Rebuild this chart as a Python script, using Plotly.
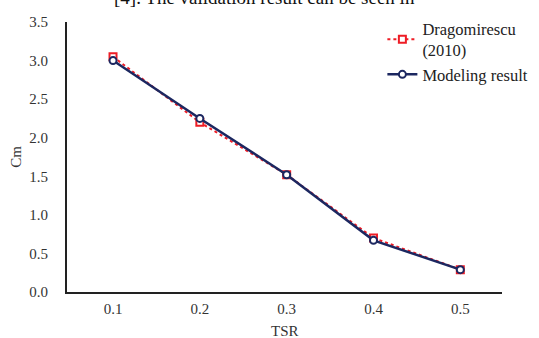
import plotly.graph_objects as go

tsr = [0.1, 0.2, 0.3, 0.4, 0.5]
tick_labels = ["0.1", "0.2", "0.3", "0.4", "0.5"]
cm_dragomirescu = [3.05, 2.20, 1.52, 0.70, 0.29]
cm_model = [3.00, 2.25, 1.52, 0.67, 0.29]

RED = "#ee1c25"
NAVY = "#1c2760"
FONT = "Liberation Serif, Times New Roman, serif"

fig = go.Figure()
fig.add_trace(go.Scatter(
    x=tsr, y=cm_dragomirescu, mode="lines+markers",
    name="Dragomirescu<br>(2010)",
    line=dict(color=RED, width=2, dash="dot"),
    marker=dict(symbol="square", size=7, color="white", line=dict(color=RED, width=2)),
))
fig.add_trace(go.Scatter(
    x=tsr, y=cm_model, mode="lines+markers",
    name="Modeling result",
    line=dict(color=NAVY, width=2.5),
    marker=dict(symbol="circle", size=7, color="white", line=dict(color=NAVY, width=2)),
))

fig.update_layout(
    width=539, height=338,
    margin=dict(l=67, r=37, t=22, b=46, autoexpand=False),
    paper_bgcolor="white", plot_bgcolor="white",
    font=dict(family=FONT, size=15, color="#333333"),
    showlegend=True,
    legend=dict(x=0.725, y=1.04, xanchor="left", yanchor="top",
                bgcolor="rgba(0,0,0,0)", font=dict(family=FONT, size=16.5, color="#222222"),
                tracegroupgap=2, itemwidth=30),
    xaxis=dict(range=[0.047, 0.548], tickvals=tsr, ticktext=tick_labels, automargin=False,
               showgrid=False, zeroline=False, showline=True, linecolor="#222222", linewidth=2,
               ticks="", tickfont=dict(size=15), ticklabelstandoff=2),
    yaxis=dict(range=[0, 3.5], dtick=0.5, tickformat=".1f", automargin=False,
               showgrid=False, zeroline=False, showline=True, linecolor="#222222", linewidth=2,
               ticks="", tickfont=dict(size=15), ticklabelstandoff=14,
               title=dict(text="Cm", font=dict(size=15), standoff=4)),
    annotations=[
        dict(text="[4]. The validation result can be seen in", xref="paper", yref="paper",
             x=0.455, y=1.045, xanchor="center", yanchor="bottom", showarrow=False,
             font=dict(family=FONT, size=19, color="#111111")),
        dict(text="TSR", xref="paper", yref="paper",
             x=0.5, y=-0.145, xanchor="center", yanchor="middle", showarrow=False,
             font=dict(family=FONT, size=15, color="#333333")),
    ],
)

fig.write_html("out.html")
